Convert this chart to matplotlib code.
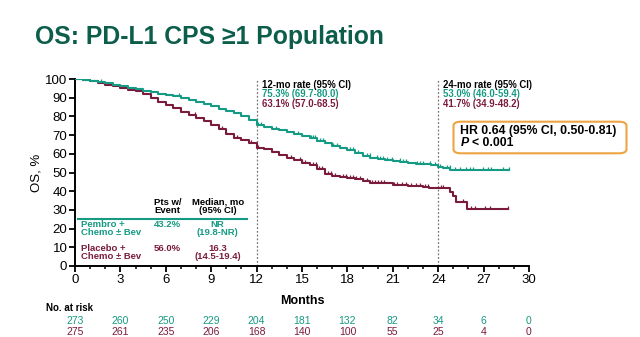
import numpy as np
import matplotlib
matplotlib.use('Agg')
import matplotlib.pyplot as plt
from matplotlib.patches import FancyBboxPatch
from matplotlib.path import Path

plt.rcParams['font.family'] = ['Liberation Sans', 'DejaVu Sans']

GREEN = '#159a83'
MAROON = '#7a1b3d'
TITLE_GREEN = '#0c5e4b'
ORANGE = '#eea443'

# Kaplan-Meier steps (months, OS %)
pembro_t = [0, 0.5, 1.0, 1.5, 2.0, 2.5, 3.0, 3.5, 4.0, 4.5, 5.0, 5.5, 6.0, 6.5, 7.0,
            7.5, 8.0, 8.5, 9.0, 9.5, 10.0, 10.5, 11.0, 11.5, 12.0, 12.5, 13.0, 13.5,
            14.0, 14.5, 15.0, 15.5, 16.0, 16.5, 17.0, 17.5, 18.0, 18.5, 19.0, 19.5,
            20.0, 20.5, 21.0, 21.5, 22.0, 22.5, 23.0, 23.5, 24.0, 24.3, 24.8, 28.7]
pembro_s = [100, 99.6, 99.0, 98.3, 97.6, 96.8, 96.0, 95.3, 94.5, 93.8, 93.0, 92.2, 91.5,
            90.8, 90.0, 88.9, 87.6, 86.4, 85.3, 84.2, 83.0, 81.6, 80.0, 78.0, 75.3, 74.3,
            73.4, 72.6, 71.8, 70.6, 69.5, 68.3, 67.0, 65.8, 64.3, 63.0, 61.8, 60.4, 59.0,
            57.8, 57.2, 56.5, 56.0, 55.6, 55.2, 54.8, 54.5, 54.1, 53.0, 52.2, 51.5, 51.5]

placebo_t = [0, 0.5, 1.0, 1.5, 2.0, 2.5, 3.0, 3.5, 4.0, 4.5, 5.0, 5.5, 6.0, 6.5, 7.0,
             7.5, 8.0, 8.5, 9.0, 9.5, 10.0, 10.5, 11.0, 11.5, 12.0, 12.5, 13.0, 13.5,
             14.0, 14.5, 15.0, 15.5, 16.0, 16.5, 17.0, 17.5, 18.0, 18.5, 19.0, 19.5,
             21.0, 22.0, 23.0, 23.4, 24.8, 25.0, 25.2, 25.9, 28.6]
placebo_s = [100, 99.5, 98.8, 97.8, 97.0, 96.0, 95.2, 94.3, 93.4, 91.8, 89.6, 87.6, 86.2,
             84.6, 82.6, 80.8, 79.0, 77.3, 75.4, 73.0, 70.4, 68.6, 67.4, 65.8, 63.1, 62.6,
             61.0, 59.5, 58.0, 56.6, 55.2, 54.0, 52.0, 49.4, 48.2, 47.8, 47.0, 46.3, 45.4,
             44.6, 43.4, 43.0, 42.4, 41.6, 39.8, 37.3, 34.4, 30.5, 30.5]

# censoring marks (months)
pembro_cens = [1.7, 6.9, 12.1, 12.3, 13.3, 14.75, 15.6, 15.74, 15.85, 16.18, 16.4, 16.5,
               17.06, 17.28, 18.16, 18.38, 18.71, 19.27, 19.48, 19.93, 20.15, 20.36,
               20.59, 20.92, 21.47, 21.69, 21.9, 22.57, 22.79, 23.0, 23.45, 23.78, 24.1,
               24.55, 24.77, 25.1, 25.43, 25.87, 26.09, 26.31, 26.97, 27.3, 27.52,
               28.29, 28.69]
placebo_cens = [7.9, 9.7, 10.0, 10.7, 11.6, 12.1, 14.3, 14.86, 15.0, 15.2, 15.7, 15.9,
                16.1, 16.3, 16.7, 16.9, 17.2, 17.7, 17.9, 18.2, 18.4, 18.6, 18.8, 19.0,
                19.3, 19.6, 19.8, 20.0, 20.2, 20.4, 21.1, 21.3, 21.6, 21.9, 22.2, 22.5,
                22.8, 23.1, 23.3, 24.2, 24.33, 25.65, 26.2, 26.42, 27.08, 27.41, 28.62]

risk_months = [0, 3, 6, 9, 12, 15, 18, 21, 24, 27, 30]
risk_pembro = [273, 260, 250, 229, 204, 181, 132, 82, 34, 6, 0]
risk_placebo = [275, 261, 235, 206, 168, 140, 100, 55, 25, 4, 0]

rate12 = ['12-mo rate (95% CI)', '75.3% (69.7-80.0)', '63.1% (57.0-68.5)']
rate24 = ['24-mo rate (95% CI)', '53.0% (46.0-59.4)', '41.7% (34.9-48.2)']


def surv_at(t, s, times):
	idx = np.searchsorted(t, times, side='right') - 1
	return np.asarray(s)[idx]


fig = plt.figure(figsize=(6.4, 3.37), dpi=100)
ax = fig.add_axes([75 / 640, 1 - 266 / 337, 454 / 640, 187 / 337])

tick_marker = Path([(0, 0), (0, 1)], [Path.MOVETO, Path.LINETO])

for t, s, cens, col in [(placebo_t, placebo_s, placebo_cens, MAROON),
                        (pembro_t, pembro_s, pembro_cens, GREEN)]:
	ax.step(t, s, where='post', color=col, lw=1.5, zorder=3)
	ax.plot(cens, surv_at(t, s, cens), ls='none', marker=tick_marker,
	        ms=5, mew=0.9, color=col, zorder=3)

ax.vlines([12, 24], 0, 100, colors='#777777', linestyles=(0, (1.5, 1.5)), lw=0.9)

ax.set_xlim(0, 30)
ax.set_ylim(0, 100)
ax.set_xticks(risk_months)
ax.set_xticks(range(0, 31), minor=True)
ax.set_yticks(range(0, 101, 10))
ax.tick_params(axis='both', labelsize=9.5, width=1.3, length=4, pad=1.5)
ax.tick_params(axis='x', which='minor', width=1.1, length=2.5)
for side in ['top', 'right']:
	ax.spines[side].set_visible(False)
for side in ['left', 'bottom']:
	ax.spines[side].set_linewidth(1.4)
ax.set_ylabel('OS, %', fontsize=9.5, labelpad=2)
ax.set_xlabel('Months', fontsize=9, fontweight='bold', labelpad=7)

# 12 and 24 month rates
for x0, lines in [(12.33, rate12), (24.29, rate24)]:
	for txt, y, col in zip(lines, [97.0, 91.8, 86.4], ['black', GREEN, MAROON]):
		ax.text(x0, y, txt, color=col, fontsize=6.9, fontweight='bold', va='center', ha='left')

# legend table inside plot
ax.hlines(25.2, 0.1, 11.45, color=GREEN, lw=1.5)
fs = 6.8
ax.text(6.1, 34.1, 'Pts w/', fontsize=fs, fontweight='bold', ha='center', va='center')
ax.text(6.1, 29.6, 'Event', fontsize=fs, fontweight='bold', ha='center', va='center')
ax.text(9.43, 34.1, 'Median, mo', fontsize=fs, fontweight='bold', ha='center', va='center')
ax.text(9.43, 29.6, '(95% CI)', fontsize=fs, fontweight='bold', ha='center', va='center')
rows = [(GREEN, 'Pembro +', 'Chemo ± Bev', '43.2%', 'NR', '(19.8-NR)', 22.3),
        (MAROON, 'Placebo +', 'Chemo ± Bev', '56.0%', '16.3', '(14.5-19.4)', 9.5)]
for col, n1, n2, pct, med, ci, y in rows:
	ax.text(0.38, y, n1, color=col, fontsize=fs, fontweight='bold', va='center')
	ax.text(0.38, y - 4.5, n2, color=col, fontsize=fs, fontweight='bold', va='center')
	ax.text(6.1, y, pct, color=col, fontsize=fs, fontweight='bold', ha='center', va='center')
	ax.text(9.43, y, med, color=col, fontsize=fs, fontweight='bold', ha='center', va='center')
	ax.text(9.43, y - 4.5, ci, color=col, fontsize=fs, fontweight='bold', ha='center', va='center')

# number at risk
fig.text(46 / 640, 1 - 308 / 337, 'No. at risk', fontsize=7, fontweight='bold', va='center')
trans = ax.get_xaxis_transform()
for m, a, b in zip(risk_months, risk_pembro, risk_placebo):
	ax.text(m, -0.295, str(a), transform=trans, color=GREEN, fontsize=7.5,
	        ha='center', va='center', clip_on=False)
	ax.text(m, -0.355, str(b), transform=trans, color=MAROON, fontsize=7.5,
	        ha='center', va='center', clip_on=False)

# HR box
box = FancyBboxPatch((453.5 / 640, 1 - 153.3 / 337), 173 / 640, 31.6 / 337,
                     boxstyle='round,pad=0,rounding_size=0.012', transform=fig.transFigure,
                     fc='white', ec=ORANGE, lw=1.5, zorder=5)
fig.patches.append(box)
fig.text(460.5 / 640, 1 - 130.7 / 337, 'HR 0.64 (95% CI, 0.50-0.81)', fontsize=8.8,
         fontweight='bold', va='center', zorder=6)
fig.text(460.5 / 640, 1 - 143.3 / 337, 'P', fontsize=8.8, fontweight='bold',
         style='italic', va='center', zorder=6)
fig.text(471.5 / 640, 1 - 143.3 / 337, '< 0.001', fontsize=8.8, fontweight='bold',
         va='center', zorder=6)

fig.text(35 / 640, 1 - 37 / 337, 'OS: PD-L1 CPS ≥1 Population', fontsize=17.8,
         fontweight='bold', color=TITLE_GREEN, va='center')

fig.savefig('out.png', dpi=100)
